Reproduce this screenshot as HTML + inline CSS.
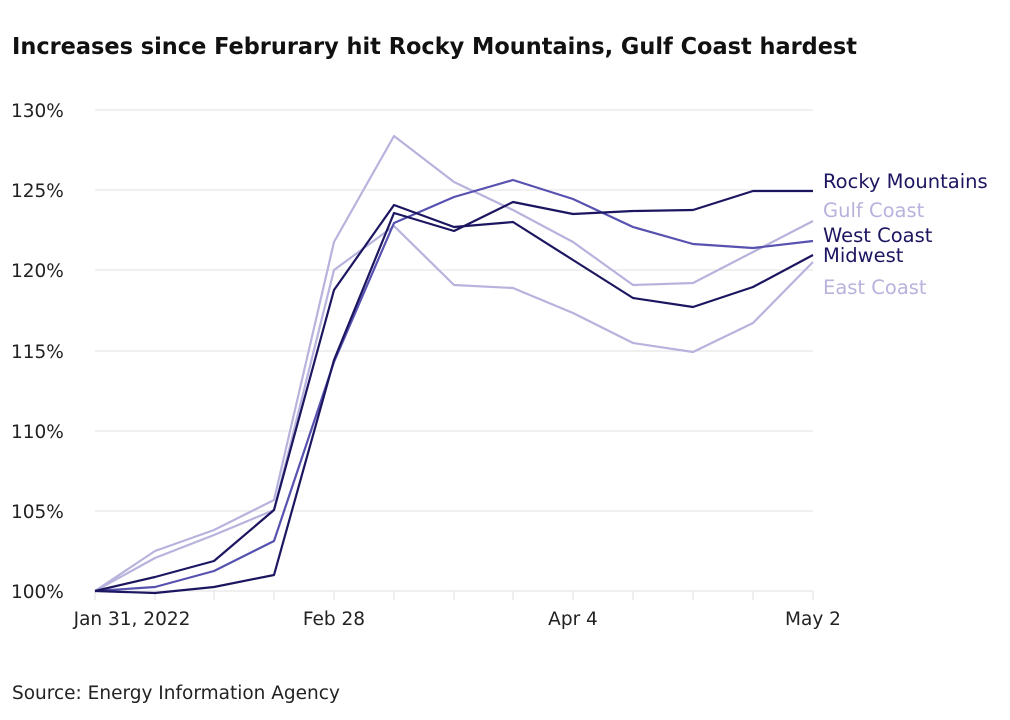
<!DOCTYPE html>
<html><head><style>
body{margin:0;background:#fff;}
svg{display:block;font-family:"DejaVu Sans","Liberation Sans",sans-serif;}
</style></head><body>
<svg width="1010" height="720" viewBox="0 0 1010 720">
<rect width="1010" height="720" fill="#fff"/>
<text x="12" y="54" font-size="23" font-weight="600" fill="#111" textLength="845" lengthAdjust="spacingAndGlyphs">Increases since Februrary hit Rocky Mountains, Gulf Coast hardest</text>
<g stroke="#e6e6e6" stroke-width="1.3">
<line x1="95" x2="813" y1="110" y2="110"/>
<line x1="95" x2="813" y1="190" y2="190"/>
<line x1="95" x2="813" y1="270" y2="270"/>
<line x1="95" x2="813" y1="351" y2="351"/>
<line x1="95" x2="813" y1="431" y2="431"/>
<line x1="95" x2="813" y1="511" y2="511"/>
<line x1="95" x2="813" y1="591" y2="591"/>
<path d="M95 591v9M155 591v9M214 591v9M274 591v9M334 591v9M394 591v9M454 591v9M513 591v9M573 591v9M633 591v9M693 591v9M753 591v9M813 591v9"/>
</g>
<g font-size="18.5" fill="#222">
<text x="11" y="117">130%</text>
<text x="11" y="197">125%</text>
<text x="11" y="277">120%</text>
<text x="11" y="358">115%</text>
<text x="11" y="438">110%</text>
<text x="11" y="518">105%</text>
<text x="11" y="598">100%</text>
<text x="132" y="625" text-anchor="middle">Jan 31, 2022</text>
<text x="334" y="625" text-anchor="middle">Feb 28</text>
<text x="573" y="625" text-anchor="middle">Apr 4</text>
<text x="813" y="625" text-anchor="middle">May 2</text>
<text x="12" y="699">Source: Energy Information Agency</text>
</g>
<g fill="none" stroke-width="2.2" stroke-linejoin="round">
<polyline stroke="#b7b3dd" points="95,591 155,558 214,535 274,510 334,270 394,226 454,285 513,288 573,313 633,343 693,352 753,323 813,262"/>
<polyline stroke="#b7b3dd" points="95,591 155,551 214,530 274,500 334,242 394,136 454,182 513,210 573,242 633,285 693,283 753,252 813,221"/>
<polyline stroke="#5752b0" points="95,591 155,587 214,571 274,541 334,362 394,223 454,197 513,180 573,199 633,227 693,244 753,248 813,241"/>
<polyline stroke="#1c1660" points="95,591 155,577 214,561 274,510 334,290 394,205 454,227 513,222 573,260 633,298 693,307 753,287 813,255"/>
<polyline stroke="#1c1660" points="95,591 155,593 214,587 274,575 334,360 394,213 454,231 513,202 573,214 633,211 693,210 753,191 813,191"/>
</g>
<g font-size="19.5">
<text x="823" y="188" fill="#1c1660">Rocky Mountains</text>
<text x="823" y="217" fill="#b7b3dd">Gulf Coast</text>
<text x="823" y="242" fill="#1c1660">West Coast</text>
<text x="823" y="262" fill="#1c1660">Midwest</text>
<text x="823" y="294" fill="#b7b3dd">East Coast</text>
</g>
</svg>
</body></html>
